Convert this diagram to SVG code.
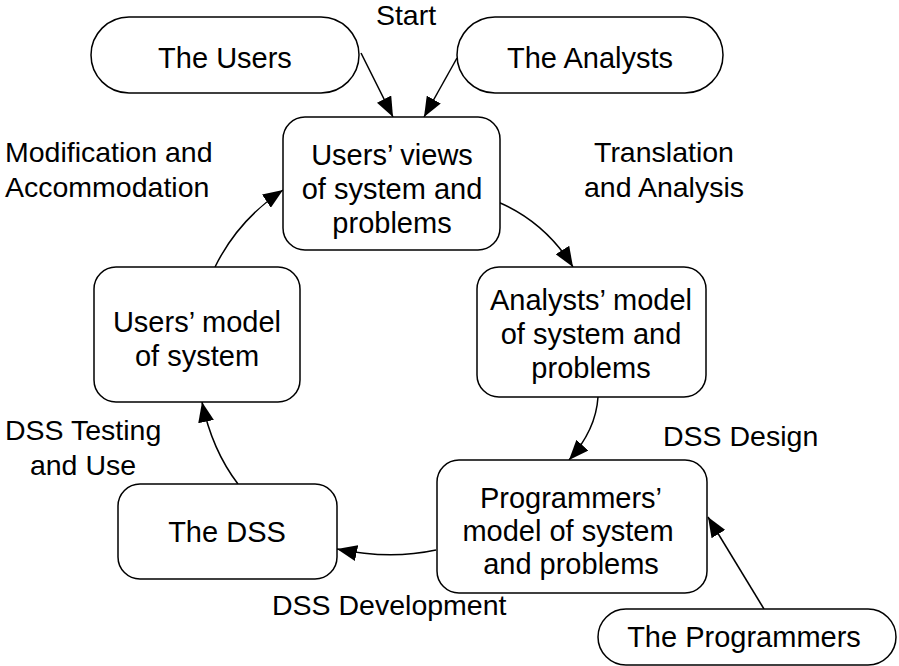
<svg xmlns="http://www.w3.org/2000/svg" width="899" height="666" viewBox="0 0 899 666">
<defs>
<style>
.box{fill:#fff;stroke:#000;stroke-width:1.5}
.t{font-family:"Liberation Sans",Arial,sans-serif;font-size:29px;fill:#000;text-anchor:middle}
.l{font-family:"Liberation Sans",Arial,sans-serif;font-size:28.5px;fill:#000}
.lc{font-family:"Liberation Sans",Arial,sans-serif;font-size:28.5px;fill:#000;text-anchor:middle}
.c{fill:none;stroke:#000;stroke-width:1.5;marker-end:url(#ah)}
</style>
<marker id="ah" viewBox="0 0 20 16" refX="20" refY="8" markerWidth="20" markerHeight="16" markerUnits="userSpaceOnUse" orient="auto">
<path d="M0,0 L20,8 L0,16 Z" fill="#000"/>
</marker>
</defs>
<rect width="899" height="666" fill="#fff"/>
<g id="connectors">
<path class="c" d="M361,53 L393,117"/>
<path class="c" d="M457,58 L424,117"/>
<path class="c" d="M498,202 Q545,222 573,267"/>
<path class="c" d="M598,397 Q596,430 569,460"/>
<path class="c" d="M436,550 Q390,560 337,549"/>
<path class="c" d="M238,484 Q212,450 202,402"/>
<path class="c" d="M215,267 Q238,220 283,190"/>
<path class="c" d="M764,609 L708,517"/>
</g>
<g id="users">
<rect class="box" x="91" y="17" width="268" height="76" rx="38"/>
<text class="t" x="225" y="68">The Users</text>
</g>
<g id="analysts">
<rect class="box" x="457" y="17" width="266" height="76" rx="38"/>
<text class="t" x="590" y="68">The Analysts</text>
</g>
<g id="users-views">
<rect class="box" x="283" y="117" width="217" height="133" rx="22"/>
<text class="t" x="392" y="165">Users’ views</text>
<text class="t" x="392" y="199">of system and</text>
<text class="t" x="392" y="233">problems</text>
</g>
<g id="analysts-model">
<rect class="box" x="477" y="267" width="229" height="130" rx="22"/>
<text class="t" x="591" y="310">Analysts’ model</text>
<text class="t" x="591" y="344">of system and</text>
<text class="t" x="591" y="378">problems</text>
</g>
<g id="users-model">
<rect class="box" x="94" y="267" width="206" height="135" rx="22"/>
<text class="t" x="197" y="332">Users’ model</text>
<text class="t" x="197" y="366">of system</text>
</g>
<g id="programmers-model">
<rect class="box" x="437" y="460" width="270" height="133" rx="22"/>
<text class="t" x="571" y="508">Programmers’</text>
<text class="t" x="568" y="541">model of system</text>
<text class="t" x="571" y="574">and problems</text>
</g>
<g id="dss">
<rect class="box" x="118" y="484" width="219" height="95" rx="22"/>
<text class="t" x="227" y="542">The DSS</text>
</g>
<g id="programmers">
<rect class="box" x="598" y="609" width="298" height="56" rx="28"/>
<text class="t" x="744" y="647">The Programmers</text>
</g>
<g id="labels">
<text class="lc" x="406" y="25">Start</text>
<text class="l" x="5" y="162">Modification and</text>
<text class="l" x="5" y="197">Accommodation</text>
<text class="lc" x="664" y="162">Translation</text>
<text class="lc" x="664" y="197">and Analysis</text>
<text class="l" x="663" y="446">DSS Design</text>
<text class="l" x="5" y="440">DSS Testing</text>
<text class="lc" x="83" y="475">and Use</text>
<text class="l" x="272" y="615">DSS Development</text>
</g>
</svg>
